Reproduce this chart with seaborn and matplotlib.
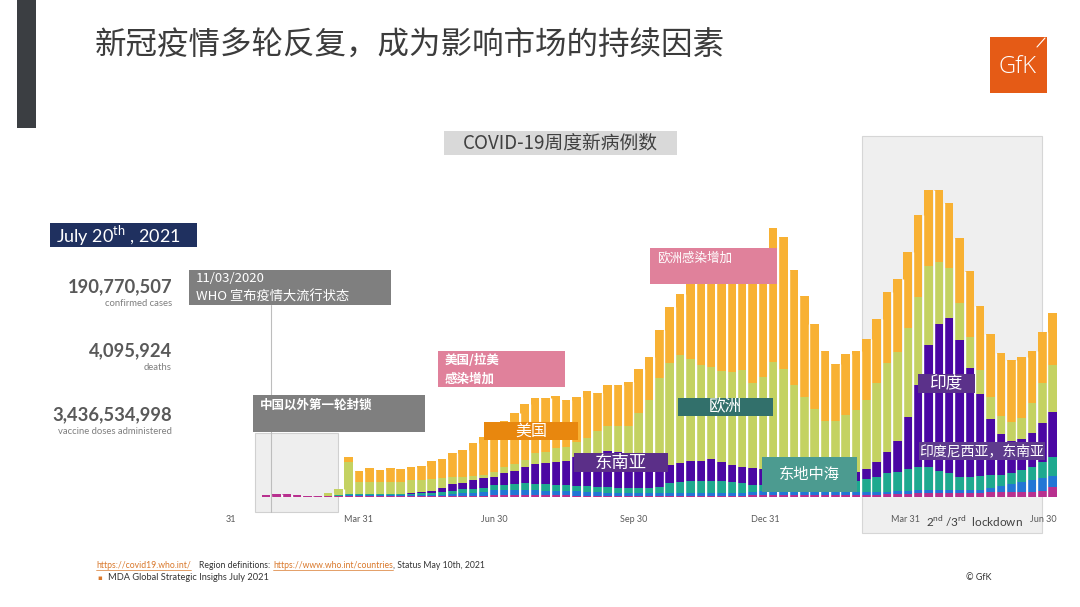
import numpy as np
import pandas as pd
import matplotlib
matplotlib.use("Agg")
import matplotlib.pyplot as plt
from matplotlib.patches import Rectangle
import seaborn as sns

# ---------------- data (weekly new cases, 1 unit ~ 18.5k cases) ----------------
weeks = list(range(77))
western_pacific = [2, 3, 3, 2, 1.5, 1.5, 1, 1, 1, 1, 1, 1, 1, 1, 1, 1, 1, 1, 1, 1.3, 1.5, 1.5,
                   2, 2, 2, 2, 2, 2, 2, 2, 1.5, 1.5, 1.5, 1.5, 1.3, 1.3, 1.3, 1.3, 1.3, 1.3, 1.3,
                   1.3, 1.3, 1.3, 1.3, 1.3, 1.3, 1.7, 1.7, 1.7, 1.7, 1.7, 1.7, 1.7, 1.7, 1.7, 1.7,
                   1.7, 2.5, 2.5, 3, 3.2, 3.5, 4, 4, 4.5, 4.5, 4.5, 4.5, 4.5, 4.7, 5, 5, 5.3, 5.5,
                   6.5, 9.7]
africa = [0, 0, 0, 0, 0, 0, 0, 0, 1, 1, 1, 1, 1, 1, 1, 1, 1, 1.5, 2, 2.4, 2.8, 3.5,
          5, 5, 5, 5, 5, 4.5, 4.5, 4.5, 4.5, 4, 3.5, 3, 2.7, 2.7, 2.4, 2.4, 2.4, 2.7, 2.7,
          2.7, 2.7, 2.7, 2.7, 2.7, 2.7, 3.3, 4.3, 4.8, 4.3, 3.8, 3.3, 3.3, 3.3, 3.3, 3.3,
          3.3, 2.8, 2.8, 2.5, 2.8, 3, 3, 3, 2.5, 2.5, 2.5, 2.5, 3, 4, 6, 7.7, 10, 11.5,
          12.2, 11.3]
eastern_med = [0, 0, 0, 0, 0, 0, 0, 1, 1, 1, 1, 1, 1, 1, 1.5, 2, 1.7, 2.2, 3.3, 4, 4, 4,
               5, 5, 6, 6.7, 6, 6.5, 6, 5.5, 5.5, 5.5, 5.5, 5.5, 5.5, 5, 5.3, 5.3, 6.3, 10, 11,
               12, 12, 12, 12, 11.5, 10, 7, 6, 5.5, 6, 6, 6.5, 6.5, 7, 8, 9,
               11, 13.2, 15, 18.2, 19.3, 21.2, 23.3, 23.3, 19.3, 16.7, 13.3, 13.3, 13.5, 13.3, 11, 11, 11.7, 12.7,
               16.6, 19.3]
south_east_asia = [0, 0, 0, 0, 0, 0, 0, 0, 0.5, 0.5, 0.5, 0.5, 0.5, 0.5, 1, 1.5, 2.6, 4.6, 6.4, 6.6, 8.4, 9.7,
                   8.3, 11.7, 13.3, 16.6, 19.7, 20.7, 22.8, 24.3, 28.5, 31, 34, 36, 36, 34, 32, 28, 23, 18, 19.3,
                   20, 20, 21.7, 18.7, 16.5, 15.7, 17, 16, 16, 15.5, 14.5, 14.5, 14.5, 13, 12, 11,
                   9.5, 10, 14.7, 21.6, 31.2, 52, 81.7, 121.7, 146.7, 155.6, 136.7, 108.4, 81.7, 55.7, 40.7, 32.3, 30.7, 34,
                   38.4, 44.4]
europe = [0, 0, 0, 0, 0, 0, 3, 6, 32, 12, 12, 12, 12, 12, 12.5, 11.5, 11.7, 9.4, 7, 6, 4.3, 3,
          4.7, 6.6, 6.7, 6.7, 11, 11.6, 13.4, 14, 15.3, 17.3, 21.8, 25, 25.5, 28.3, 43.3, 60, 85.7, 102.3, 107.7,
          101.7, 96, 92.6, 91.6, 93.3, 97.3, 84.7, 92.3, 107.3, 100.2, 86, 74, 61.7, 51.5, 51, 57,
          61.5, 68.5, 79.5, 89.2, 88.5, 89, 87.7, 79, 62.3, 49.4, 37.3, 31.6, 24.3, 22, 18.3, 19.3, 21, 30,
          40, 47.3]
americas = [0, 0, 0, 0, 0, 0, 0, 0, 5, 11, 14, 12, 14, 13, 13, 14, 18, 19.3, 24.6, 26.7, 33.5, 38.3,
            44, 46, 50.7, 56, 55, 53.4, 52.6, 46.7, 45, 46.7, 38, 41.3, 41.3, 43.7, 44, 43, 48.3, 55.4, 61,
            79.3, 90, 94.7, 98.7, 103.7, 106, 117.3, 118.7, 134.2, 132, 115, 100.7, 85.3, 69.8, 56.8, 60.8,
            59.3, 61.5, 63.2, 70.5, 73, 76, 82.3, 76, 71.7, 65.6, 64.4, 66, 64.3, 63, 62.7, 61.7, 61.6, 52.6,
            51.3, 52.3]

regions = ["美洲", "欧洲", "东南亚", "东地中海", "非洲", "西太平洋"]
region_colors = ["#F8B133", "#C4D262", "#4B07A3", "#1EA98F", "#2276D5", "#B8308F"]
tick_labels = ["31", "Mar 31", "Jun 30", "Sep 30", "Dec 31", "Mar 31", "Jun 30"]
tick_pos = [-3.4, 8.9, 22.1, 35.5, 48.2, 61.8, 75.1]

series = [americas, europe, south_east_asia, eastern_med, africa, western_pacific]
df = pd.DataFrame({
    "week": np.tile(weeks, len(regions)),
    "region": np.repeat(regions, len(weeks)),
    "cases": np.concatenate([np.asarray(s, float) for s in series]),
})

sns.set_style("white")
plt.rcParams["font.family"] = ["Noto Sans CJK SC", "DejaVu Sans"]
plt.rcParams["mathtext.fontset"] = "custom"
plt.rcParams["mathtext.rm"] = "Lato"

W, H = 1080, 607
fig = plt.figure(figsize=(10.8, 6.07), dpi=100)
fig.patch.set_facecolor("white")

# ---------------- background layer (pixel coords) ----------------
bg = fig.add_axes([0, 0, 1, 1])
bg.set_xlim(0, W); bg.set_ylim(H, 0); bg.axis("off")


def rect(axx, x0, y0, x1, y1, fc, ec="none", lw=0, z=1):
    axx.add_patch(Rectangle((x0, y0), x1 - x0, y1 - y0, facecolor=fc, edgecolor=ec, linewidth=lw, zorder=z))


rect(bg, 862, 136, 1042, 533, "#EFEFEF", "#D6D6D6", 0.8)
rect(bg, 255, 433, 338, 512, "#EEEEEE", "#D0D0D0", 0.8)

# ---------------- bars ----------------
X0, DX, BASE = 266, 10.35, 497
ax = fig.add_axes([0, 0, 1, 1])
ax.patch.set_alpha(0)
sns.histplot(data=df, x="week", weights="cases", hue="region", hue_order=regions,
             palette=dict(zip(regions, region_colors)), multiple="stack", discrete=True,
             shrink=0.84, alpha=1, linewidth=0, legend=False, ax=ax)
totals = np.sum([np.asarray(s, float) for s in series], axis=0)
for i in range(len(weeks) - 1):
    top = min(totals[i], totals[i + 1])
    if top > 0:
        ax.vlines(weeks[i] + 0.5, 0, top, color="white", lw=1.0, zorder=5)
ax.set_xlim(-X0 / DX, (W - X0) / DX)
ax.set_ylim(-(H - BASE), BASE)
ax.axis("off")
for p, lab in zip(tick_pos, tick_labels):
    ax.text(p, -23, lab, ha="center", va="center", fontsize=6.5, color="#595959", family="Lato")

# ---------------- foreground layer ----------------
fg = fig.add_axes([0, 0, 1, 1])
fg.patch.set_alpha(0)
fg.set_xlim(0, W); fg.set_ylim(H, 0); fg.axis("off")

# left dark bar + title
rect(fg, 17, 0, 36, 128, "#3B3E42")
fg.text(95, 46, "新冠疫情多轮反复，成为影响市场的持续因素", fontsize=22.7, color="#3C3C3C",
        va="center", ha="left")

# GfK logo
rect(fg, 990, 37, 1047, 93, "#E55B16")
fg.text(1017, 67, "GfK", color="white", fontsize=17, ha="center", va="center", family="Open Sans",
        fontweight="light")
fg.plot([1037, 1045], [47, 38], color="white", lw=0.8)

# chart title
rect(fg, 444, 131, 677, 155, "#D9D9D9")
fg.text(560, 143, "COVID-19周度新病例数", fontsize=13.5, color="#404040", ha="center", va="center")

# date box
rect(fg, 50, 223, 197, 247, "#1F305F")
fg.text(56, 236, r"July 20$^{\mathrm{th}}$ , 2021", fontsize=13, color="white", ha="left", va="center",
        family="Lato")

# stats
stats = [("190,770,507", "confirmed cases", 287), ("4,095,924", "deaths", 351),
         ("3,436,534,998", "vaccine doses administered", 415)]
for big, small, yy in stats:
    fg.text(172, yy, big, fontsize=13.2, fontweight="bold", color="#595959", ha="right", va="center",
            family="Lato")
    fg.text(172, yy + 17, small, fontsize=6.8, color="#7F7F7F", ha="right", va="center", family="Lato")

# WHO pandemic annotation
fg.plot([271, 271], [305, 512], color="#BDBDBD", lw=0.8, zorder=1)
rect(fg, 189, 270, 391, 305, "#7F7F7F", z=2)
fg.text(196, 279, "11/03/2020", fontsize=9.5, color="white", va="center", ha="left", zorder=3)
fg.text(196, 297, "WHO 宣布疫情大流行状态", fontsize=9.5, color="white", va="center", ha="left", zorder=3)

# first lockdown
rect(fg, 253, 395, 425, 432, "#7F7F7F", z=2)
fg.text(260, 405, "中国以外第一轮封锁", fontsize=9, color="white", fontweight="bold", va="center",
        ha="left", zorder=3)

# pink boxes
rect(fg, 438, 351, 565, 387, "#E0819B", z=2)
fg.text(445, 360, "美国/拉美", fontsize=9, color="white", fontweight="bold", va="center", ha="left", zorder=3)
fg.text(445, 379, "感染增加", fontsize=9, color="white", fontweight="bold", va="center", ha="left", zorder=3)
rect(fg, 650, 248, 777, 284, "#E0819B", z=2)
fg.text(657, 258, "欧洲感染增加", fontsize=9, color="white", va="center", ha="left", zorder=3)

# region labels
labels = [
    (484, 422, 578, 440, "#E8870E", "美国", 11.5),
    (574, 453, 668, 472, "#5B2F88", "东南亚", 12.5),
    (678, 398, 773, 416, "#32706B", "欧洲", 12),
    (762, 457, 857, 492, "#4C9B90", "东地中海", 11),
    (918, 374, 975, 393, "#5B318A", "印度", 12),
    (919, 442, 1045, 460, "#5E3B8D", "印度尼西亚，东南亚", 10),
]
for x0, y0, x1, y1, c, t, fs in labels:
    rect(fg, x0, y0, x1, y1, c, z=2)
    fg.text((x0 + x1) / 2, (y0 + y1) / 2, t, fontsize=fs, color="white", ha="center", va="center", zorder=3)

fg.text(975, 521, r"2$^{\mathrm{nd}}$ /3$^{\mathrm{rd}}$  lockdown", fontsize=8.5, color="#404040",
        ha="center", va="center", family="Lato")

# footer (pieces chained by measured width)
orange = "#D9782B"
fs_f = 6.2
renderer = fig.canvas.get_renderer()
footer_parts = [("https://covid19.who.int/", orange, True, 8),
                ("Region definitions:", "#333333", False, 3),
                ("https://www.who.int/countries", orange, True, 0),
                (", Status May 10th, 2021", "#333333", False, 0)]
xcur = 96
for txt, col, underline, gap in footer_parts:
    t = fg.text(xcur, 565, txt, fontsize=fs_f, color=col, va="center", ha="left", family="Lato")
    bb = t.get_window_extent(renderer=renderer)
    wpx = bb.width
    if underline:
        fg.plot([xcur, xcur + wpx], [570, 570], color=col, lw=0.5)
    xcur += wpx + gap
fg.text(97, 578, "▪", fontsize=5, color=orange, va="center", family="DejaVu Sans")
fg.text(108, 578, "MDA Global Strategic Insighs July 2021", fontsize=6.7, color="#333333", va="center",
        family="Lato")
fg.text(966, 578, "© GfK", fontsize=6.5, color="#333333", va="center", family="Lato")

fig.savefig("out.png", dpi=100, facecolor="white")
